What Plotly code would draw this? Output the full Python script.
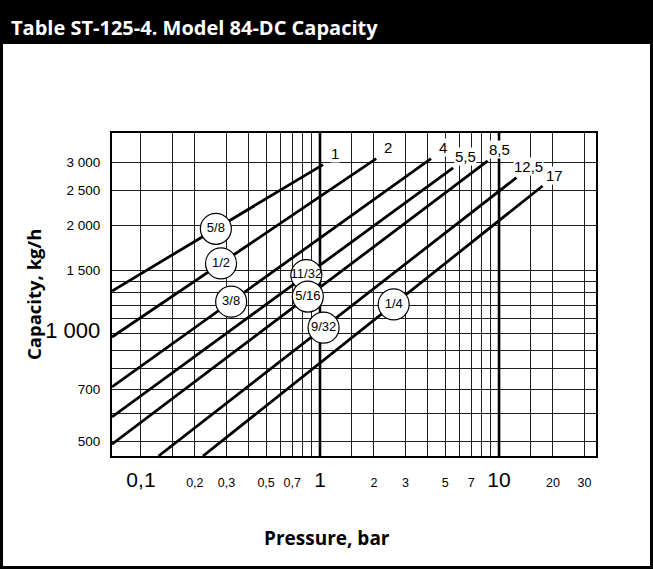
import numpy as np
import plotly.graph_objects as go

# ---- data ----
end_labels = ["1", "2", "4", "5,5", "8,5", "12,5", "17"]
orifice_labels = ["5/8", "1/2", "3/8", "11/32", "5/16", "9/32", "1/4"]
press_start = [0.0689, 0.0689, 0.0689, 0.0689, 0.0689, 0.1254, 0.222]
cap_start = [1314, 978, 710, 586, 492, 456, 456]
press_end = [1.04, 2.06, 4.17, 5.54, 8.64, 12.5, 17.5]
cap_end = [2957, 3073, 3073, 2893, 3026, 2719, 2577]
orifice_press = [0.262, 0.280, 0.319, 0.839, 0.855, 1.047, 2.58]

x_tick_vals = [0.1, 0.2, 0.3, 0.5, 0.7, 1, 2, 3, 5, 7, 10, 20, 30]
x_tick_text = ["0,1", "0,2", "0,3", "0,5", "0,7", "1", "2", "3", "5", "7", "10", "20", "30"]
x_big = ["0,1", "1", "10"]
x_minor = [0.15, 0.4, 0.6, 0.8, 0.9, 1.5, 4, 6, 8, 9, 15]
y_tick_vals = [500, 700, 1000, 1500, 2000, 2500, 3000]
y_tick_text = ["500", "700", "1 000", "1 500", "2 000", "2 500", "3 000"]
y_big = ["1 000"]
y_minor = [600, 800, 900, 1100, 1200, 1300, 1400]
emphasized_pressures = [1, 10]
x_range = [0.0689, 34.8]
y_range = [456, 3621]

# ---- layout geometry ----
W, H = 653, 569
L, R, T, B = 112, 57, 133, 113
PW, PH = W - L - R, H - T - B


def px(xp):
    return (xp - L) / PW


def py(yp):
    return (H - B - yp) / PH


TICK = "Liberation Sans, Arial, sans-serif"
BOLD = "Open Sans, Lato, Arial, sans-serif"

fig = go.Figure()

# emphasized decade grid lines
for p in emphasized_pressures:
    fig.add_trace(go.Scatter(x=[p, p], y=[y_range[0] * 0.9, y_range[1] * 1.1], mode="lines",
                             line=dict(color="black", width=2.6), hoverinfo="skip"))

# capacity lines
for i in range(len(end_labels)):
    fig.add_trace(go.Scatter(x=[press_start[i], press_end[i]], y=[cap_start[i], cap_end[i]],
                             mode="lines", line=dict(color="black", width=2.8), hoverinfo="skip"))

# orifice circles on lines (log-log interpolation)
cx, cy = [], []
for i, p in enumerate(orifice_press):
    lx0, lx1 = np.log10(press_start[i]), np.log10(press_end[i])
    ly0, ly1 = np.log10(cap_start[i]), np.log10(cap_end[i])
    t = (np.log10(p) - lx0) / (lx1 - lx0)
    cx.append(p)
    cy.append(10 ** (ly0 + t * (ly1 - ly0)))
fig.add_trace(go.Scatter(x=cx, y=cy, mode="markers+text", text=orifice_labels,
                         textposition="middle center",
                         textfont=dict(family=TICK, size=13, color="black"),
                         marker=dict(size=31, color="white", line=dict(color="black", width=1.2)),
                         hoverinfo="skip", cliponaxis=False))

annotations = []
for i, lab in enumerate(end_labels):
    annotations.append(dict(x=np.log10(press_end[i]), y=np.log10(cap_end[i]), xref="x", yref="y",
                            text=lab, showarrow=False, xshift=12, yshift=11,
                            bgcolor="white", borderpad=0,
                            font=dict(family=TICK, size=15, color="black")))

annotations.append(dict(x=px(9), y=py(27), xref="paper", yref="paper", xanchor="left", yanchor="middle",
                        text="<b>Table ST-125-4. Model 84-DC Capacity</b>", showarrow=False,
                        font=dict(family=BOLD, size=20, color="white")))
annotations.append(dict(x=px(327), y=py(538), xref="paper", yref="paper", xanchor="center", yanchor="middle",
                        text="<b>Pressure, bar</b>", showarrow=False,
                        font=dict(family=BOLD, size=19, color="black")))
annotations.append(dict(x=px(33), y=py(295), xref="paper", yref="paper", xanchor="center", yanchor="middle",
                        text="<b>Capacity, kg/h</b>", showarrow=False, textangle=-90,
                        font=dict(family=BOLD, size=18.5, color="black")))

shapes = [
    dict(type="rect", xref="paper", yref="paper", x0=px(0), x1=px(W), y0=py(44), y1=py(0),
         fillcolor="black", line=dict(width=0)),
    dict(type="rect", xref="paper", yref="paper", x0=px(1.5), x1=px(W - 1.5), y0=py(H - 1.5), y1=py(1.5),
         line=dict(color="black", width=3)),
]


def fmt(lbls, big, bigsize):
    return [f"<span style='font-size:{bigsize}px'>{t}</span>" if t in big else t for t in lbls]


grid = dict(showgrid=True, gridcolor="#1e1e1e", gridwidth=1.3)
fig.update_layout(
    width=W, height=H, margin=dict(l=L, r=R, t=T, b=B),
    paper_bgcolor="white", plot_bgcolor="white", showlegend=False,
    xaxis=dict(type="log", range=[np.log10(x_range[0]), np.log10(x_range[1])],
               tickmode="array", tickvals=x_tick_vals, ticktext=fmt(x_tick_text, x_big, 21),
               tickfont=dict(family=TICK, size=12.5, color="black"), ticks="", ticklabelstandoff=14,
               showline=True, linecolor="black", linewidth=2, mirror=True,
               minor=dict(tickmode="array", tickvals=x_minor, showgrid=True, gridcolor="#1e1e1e",
                          gridwidth=1.3, ticks=""),
               **grid),
    yaxis=dict(type="log", range=[np.log10(y_range[0]), np.log10(y_range[1])],
               tickmode="array", tickvals=y_tick_vals, ticktext=fmt(y_tick_text, y_big, 22),
               tickfont=dict(family=TICK, size=13.5, color="black"), ticks="", ticklabelstandoff=7,
               showline=True, linecolor="black", linewidth=2, mirror=True,
               minor=dict(tickmode="array", tickvals=y_minor, showgrid=True, gridcolor="#1e1e1e",
                          gridwidth=1.3, ticks=""),
               **grid),
    annotations=annotations, shapes=shapes,
)

fig.write_html("out.html", config={"displayModeBar": False},
               post_script="document.body.style.margin='0';")
